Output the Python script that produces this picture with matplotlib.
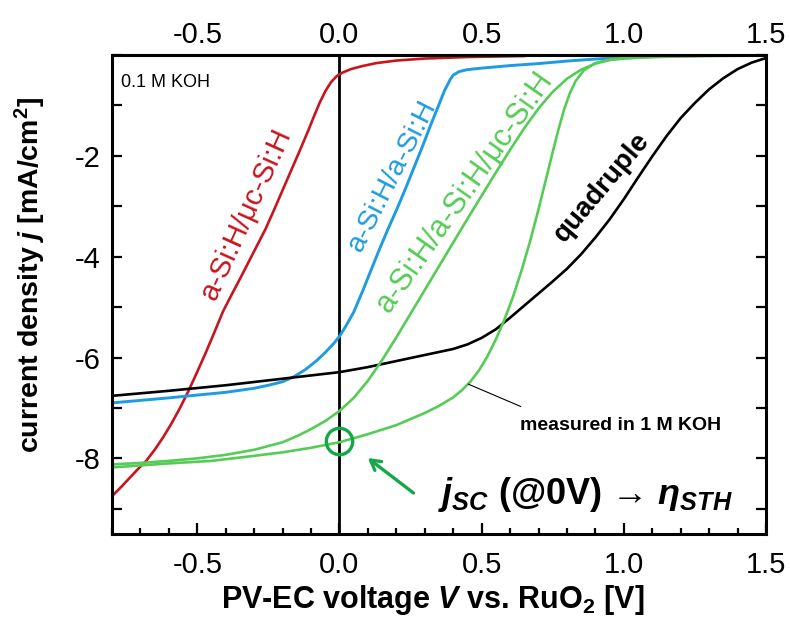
import matplotlib
matplotlib.use('Agg')
import matplotlib.pyplot as plt
from matplotlib.ticker import MultipleLocator

##############################################
# data (V in volt, j in mA/cm2)

V_red = [-0.80, -0.77, -0.74, -0.71, -0.68, -0.65, -0.62, -0.59, -0.56, -0.53, -0.50, -0.47,
         -0.44, -0.41, -0.38, -0.35, -0.32, -0.29, -0.26, -0.23, -0.20, -0.17, -0.14, -0.11,
         -0.09, -0.07, -0.05, -0.03, -0.01, 0.01, 0.04, 0.08, 0.13, 0.20, 0.30, 0.45, 0.65]
j_red = [-8.75, -8.58, -8.40, -8.22, -8.05, -7.83, -7.58, -7.30, -6.99, -6.65, -6.28, -5.90,
         -5.50, -5.09, -4.76, -4.44, -4.11, -3.78, -3.45, -3.07, -2.68, -2.29, -1.90, -1.50,
         -1.22, -0.95, -0.72, -0.54, -0.42, -0.35, -0.28, -0.22, -0.16, -0.11, -0.07, -0.04, -0.02]

V_blue = [-0.80, -0.60, -0.40, -0.30, -0.25, -0.20, -0.16, -0.12, -0.08, -0.05, -0.02, 0.00,
          0.02, 0.05, 0.08, 0.11, 0.14, 0.17, 0.20, 0.23, 0.26, 0.29, 0.32, 0.35, 0.37, 0.39,
          0.40, 0.42, 0.45, 0.50, 0.60, 0.70, 0.80, 0.90, 1.00]
j_blue = [-6.90, -6.80, -6.69, -6.61, -6.55, -6.48, -6.38, -6.24, -6.06, -5.90, -5.72, -5.58,
          -5.40, -5.10, -4.70, -4.28, -3.86, -3.46, -3.08, -2.68, -2.26, -1.84, -1.40, -0.98,
          -0.70, -0.48, -0.40, -0.33, -0.29, -0.26, -0.21, -0.17, -0.12, -0.08, -0.05]

V_quad = [-0.80, -0.60, -0.40, -0.20, 0.00, 0.10, 0.20, 0.30, 0.40, 0.45, 0.50, 0.55, 0.60,
          0.65, 0.70, 0.75, 0.80, 0.85, 0.90, 0.95, 1.00, 1.05, 1.10, 1.15, 1.20, 1.25, 1.30,
          1.35, 1.40, 1.45, 1.50]
j_quad = [-6.76, -6.66, -6.55, -6.42, -6.29, -6.19, -6.07, -5.95, -5.83, -5.74, -5.61, -5.44,
          -5.21, -4.97, -4.73, -4.49, -4.24, -3.95, -3.62, -3.26, -2.86, -2.43, -2.01, -1.61,
          -1.25, -0.95, -0.68, -0.46, -0.28, -0.15, -0.06]

# triple junction, 0.1 M KOH
V_tri = [-0.80, -0.70, -0.60, -0.50, -0.40, -0.30, -0.20, -0.15, -0.10, -0.05, 0.00, 0.05,
         0.10, 0.15, 0.20, 0.25, 0.30, 0.35, 0.40, 0.45, 0.50, 0.55, 0.60, 0.65, 0.70, 0.75,
         0.80, 0.85, 0.90, 0.95, 1.00, 1.10, 1.20, 1.35, 1.50]
j_tri = [-8.12, -8.09, -8.05, -8.00, -7.93, -7.83, -7.68, -7.56, -7.42, -7.26, -7.06, -6.80,
         -6.46, -6.05, -5.60, -5.13, -4.66, -4.19, -3.72, -3.25, -2.79, -2.33, -1.88, -1.45,
         -1.06, -0.73, -0.47, -0.29, -0.17, -0.10, -0.07, -0.04, -0.02, -0.01, 0.00]

# triple junction, measured in 1 M KOH
V_tri1M = [-0.80, -0.60, -0.45, -0.30, -0.20, -0.10, 0.00, 0.10, 0.20, 0.30, 0.35, 0.40, 0.43,
           0.46, 0.49, 0.52, 0.55, 0.58, 0.61, 0.64, 0.67, 0.70, 0.73, 0.75, 0.77, 0.79, 0.81,
           0.83, 0.86, 0.90, 0.95, 1.00, 1.10, 1.30, 1.50]
j_tri1M = [-8.18, -8.10, -8.05, -7.95, -7.88, -7.79, -7.68, -7.52, -7.34, -7.10, -6.96, -6.79,
           -6.65, -6.48, -6.26, -5.98, -5.64, -5.25, -4.80, -4.28, -3.70, -3.06, -2.38, -1.92,
           -1.48, -1.08, -0.76, -0.52, -0.30, -0.16, -0.09, -0.06, -0.04, -0.02, -0.01]

jsc_point = (0.0, -7.66)

xticks = [-0.5, 0.0, 0.5, 1.0, 1.5]
yticks = [-8, -6, -4, -2]

##############################################
# style

RED   = '#C8141E'
BLUE  = '#1E9BE1'
GREEN = '#55CC55'
DKGRN = '#14A84A'
SANS  = ['Liberation Sans', 'DejaVu Sans']

plt.rcParams['font.family'] = SANS
plt.rcParams['axes.unicode_minus'] = False
plt.rcParams['mathtext.fontset'] = 'custom'
plt.rcParams['mathtext.rm'] = 'Liberation Sans:bold'
plt.rcParams['mathtext.bf'] = 'Liberation Sans:bold'
plt.rcParams['mathtext.it'] = 'Liberation Sans:italic:bold'

fig = plt.figure(figsize=(7.9, 6.28), dpi=100)
ax = fig.add_axes([0.1418, 0.1497, 0.8278, 0.7627])

ax.plot(V_red, j_red, color=RED, lw=1.9)
ax.plot(V_blue, j_blue, color=BLUE, lw=2.1)
ax.plot(V_quad, j_quad, color='black', lw=1.9)
ax.plot(V_tri, j_tri, color=GREEN, lw=1.9)
ax.plot(V_tri1M, j_tri1M, color=GREEN, lw=1.9)
ax.axvline(0, color='black', lw=2.0, zorder=1)

ax.plot(*jsc_point, marker='o', ms=19, mfc='none', mec=DKGRN, mew=2.4)
ax.annotate('', xy=(0.092, -7.96), xytext=(0.268, -8.72),
            arrowprops=dict(arrowstyle='->,head_length=0.7,head_width=0.4', lw=2.4, color=DKGRN))

ax.set_xlim(-0.8, 1.5)
ax.set_ylim(-9.5, 0)
ax.set_xticks(xticks)
ax.xaxis.set_minor_locator(MultipleLocator(0.1))
ax.set_yticks(yticks)
ax.yaxis.set_minor_locator(MultipleLocator(1))
ax.tick_params(which='both', direction='in', top=True, right=True, width=1.6, labelsize=21)
ax.tick_params(axis='x', which='major', length=8, pad=12)
ax.tick_params(axis='x', which='minor', length=4)
ax.tick_params(axis='y', which='both', length=7, pad=8)
for sp in ax.spines.values():
    sp.set_linewidth(2.2)

# top tick labels (same scale), closer to the frame
ax_top = ax.twiny()
ax_top.set_xlim(ax.get_xlim())
ax_top.set_xticks(xticks)
ax_top.tick_params(axis='x', which='both', direction='in', length=0, labelsize=21, pad=4)
for sp in ax_top.spines.values():
    sp.set_visible(False)

ax.set_xlabel(r'PV-EC voltage $V$ vs. RuO$_2$ [V]', fontsize=22, fontweight='bold', va='top')
ax.xaxis.set_label_coords(0.49, -0.103)
ax.set_ylabel(r'current density $j$ [mA/cm$^\mathbf{2}$]', fontsize=20.5, fontweight='bold')
ax.yaxis.set_label_coords(-0.098, 0.54)

# labels in the plot
ax.text(-0.77, -0.55, '0.1 M KOH', fontsize=13, ha='left', va='center')
ax.text(-0.33, -3.16, 'a-Si:H/\u03bcc-Si:H', color=RED, fontsize=21, rotation=65.7,
        ha='center', va='center')
ax.text(0.186, -2.4, 'a-Si:H/a-Si:H', color=BLUE, fontsize=20.5, rotation=63,
        ha='center', va='center')
ax.text(0.44, -2.72, 'a-Si:H/a-Si:H/\u03bcc-Si:H', color=GREEN, fontsize=22, rotation=55,
        ha='center', va='center')
ax.text(0.922, -2.62, 'quadruple', color='black', fontsize=20, fontweight='bold', rotation=50,
        ha='center', va='center')

ax.plot([0.454, 0.637], [-6.53, -6.97], color='black', lw=0.8)
ax.text(0.99, -7.34, 'measured in 1 M KOH', fontsize=14, fontweight='bold',
        ha='center', va='center')
ax.text(0.866, -8.72, '$j_{SC}$ (@0V) \u2192 $\\eta_{STH}$',
        fontsize=26, fontweight='bold', ha='center', va='center')

fig.savefig('out.png', dpi=100)
